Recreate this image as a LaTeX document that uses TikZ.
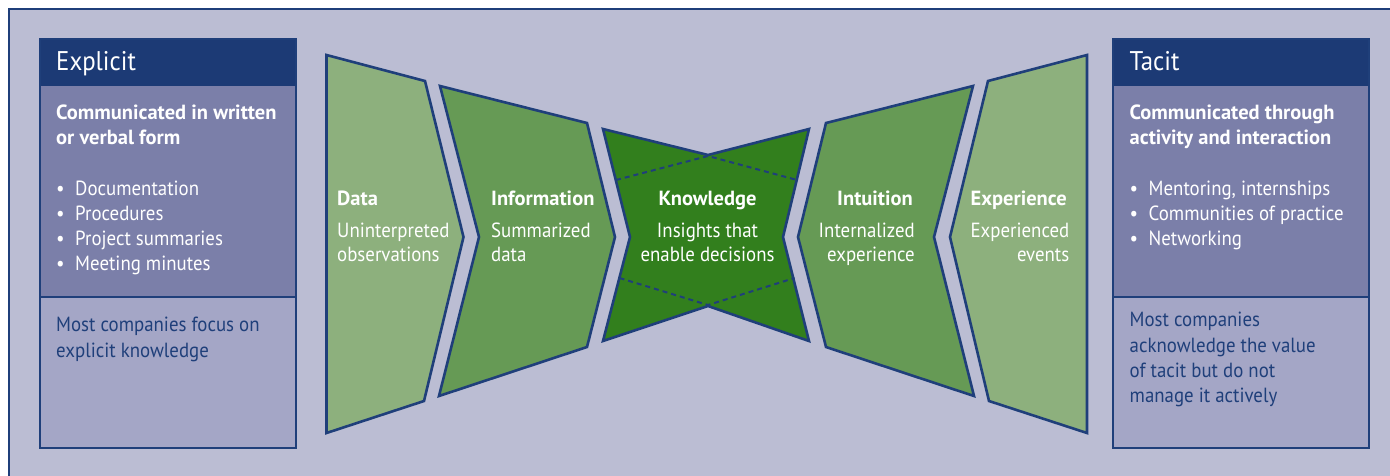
\documentclass[tikz,border=0pt]{standalone}
\usepackage{fontspec}
\setmainfont{PT Sans}[FakeStretch=0.92, BoldFeatures={FakeStretch=1.0}]
\definecolor{navy}{HTML}{1C3A75}
\definecolor{bord}{HTML}{1F3F7A}
\definecolor{bg}{HTML}{BBBDD3}
\definecolor{mid}{HTML}{7B7FA9}
\definecolor{low}{HTML}{A4A6C6}
\definecolor{gA}{HTML}{8DB07D}
\definecolor{gB}{HTML}{669A55}
\definecolor{gC}{HTML}{327F1D}
\newcommand{\bodyf}{\fontsize{20.5}{25.3}\selectfont}
\newcommand{\chevf}{\fontsize{20.5}{24.5}\selectfont}
\newcommand{\headf}{\fontsize{27}{30}\selectfont}
\newcommand{\bitem}[1]{\makebox[19pt][l]{\textbullet}#1}
\begin{document}
\begin{tikzpicture}[x=1pt,y=-1pt,
  chev/.style={draw=bord, line width=2.6pt, line join=miter},
  boxline/.style={draw=bord, line width=2pt},
  dashline/.style={draw=bord, line width=2pt, dash pattern=on 5pt off 4pt},
  txt/.style={inner sep=0pt, anchor=base west, text=white, font=\bodyf},
  dtxt/.style={txt, text=bord},
  htxt/.style={inner sep=0pt, anchor=base west, text=white, font=\headf}]
\useasboundingbox (0,0) rectangle (1390,475);
% background frame
\fill[bg] (9,9) rectangle (1392,477);
\draw[bord, line width=2pt] (9,477) -- (9,9) -- (1392,9);

% ---------- left box ----------
\fill[navy] (39.5,38.5) rectangle (296,86);
\fill[mid] (39.5,86) rectangle (296,297);
\fill[low] (39.5,297) rectangle (296,448);
\draw[boxline] (39.5,38.5) rectangle (296,448);
\draw[boxline] (39.5,297) -- (296,297);
\node[htxt] (exh) at (56,70) {Explicit};
\node[txt] (ext) at (56,119) {\parbox[t]{230pt}{\raggedright\bfseries Communicated in written\\or verbal form}};
\node[txt] (exl) at (56,195) {\parbox[t]{230pt}{\raggedright \bitem{Documentation}\\\bitem{Procedures}\\\bitem{Project summaries}\\\bitem{Meeting minutes}}};
\node[dtxt] (exn) at (56,331.7) {\parbox[t]{230pt}{\raggedright Most companies focus on\\explicit knowledge}};

% ---------- right box ----------
\fill[navy] (1113,38.5) rectangle (1369,86);
\fill[mid] (1113,86) rectangle (1369,297);
\fill[low] (1113,297) rectangle (1369,448);
\draw[boxline] (1113,38.5) rectangle (1369,448);
\draw[boxline] (1113,297) -- (1369,297);
\node[htxt] (tah) at (1129.5,70) {Tacit};
\node[txt] (tat) at (1129.5,119) {\parbox[t]{230pt}{\raggedright\bfseries Communicated through\\activity and interaction}};
\node[txt] (tal) at (1129.5,195) {\parbox[t]{235pt}{\raggedright \bitem{Mentoring, internships}\\\bitem{Communities of practice}\\\bitem{Networking}}};
\node[dtxt] (tan) at (1129.5,326.7) {\parbox[t]{230pt}{\raggedright Most companies\\acknowledge the value\\of tacit but do not\\manage it actively}};

% ---------- chevrons ----------
\draw[chev, fill=gA] (326.5,55) -- (425,81) -- (463.5,237) -- (424,401) -- (326.5,433) -- cycle;
\draw[chev, fill=gB] (440,86) -- (587,123) -- (615,237) -- (587,347) -- (439,396) -- (479,237) -- cycle;
\draw[chev, fill=gC] (603,129) -- (708,155) -- (809,129) -- (783,237) -- (809,341) -- (708,306) -- (603,341) -- (630,237) -- cycle;
\draw[chev, fill=gB] (973,86) -- (826,123) -- (798,237) -- (826,347) -- (974,396) -- (934,237) -- cycle;
\draw[chev, fill=gA] (1087,55) -- (988,81) -- (950,237) -- (989,401) -- (1087,433) -- cycle;
% dashed lines in knowledge
\draw[dashline] (616,180) -- (708,156) -- (797,180);
\draw[dashline] (619.5,278) -- (708,305) -- (794.5,278);

% ---------- chevron texts ----------
\node[txt] (dat) at (337,205.5) {\bfseries Data};
\node[txt] (dab) at (337,237) {\parbox[t]{140pt}{\raggedright\chevf Uninterpreted\\observations}};
\node[txt] (int) at (491,205.5) {\bfseries Information};
\node[txt] (inb) at (491,237) {\parbox[t]{140pt}{\raggedright\chevf Summarized\\data}};
\node[txt, anchor=base] (knt) at (707.5,205.5) {\bfseries Knowledge};
\node[txt, anchor=base] (knb) at (707.5,237) {\parbox[t]{170pt}{\centering\chevf Insights that\\enable decisions}};
\node[txt, anchor=base east] (itt) at (913,205.5) {\bfseries Intuition};
\node[txt, anchor=base east] (itb) at (915,237) {\parbox[t]{140pt}{\raggedleft\chevf Internalized\\experience}};
\node[txt, anchor=base east] (ext2) at (1067,205.5) {\bfseries Experience};
\node[txt, anchor=base east] (exb) at (1069.5,237) {\parbox[t]{140pt}{\raggedleft\chevf Experienced\\events}};
\end{tikzpicture}
\end{document}
